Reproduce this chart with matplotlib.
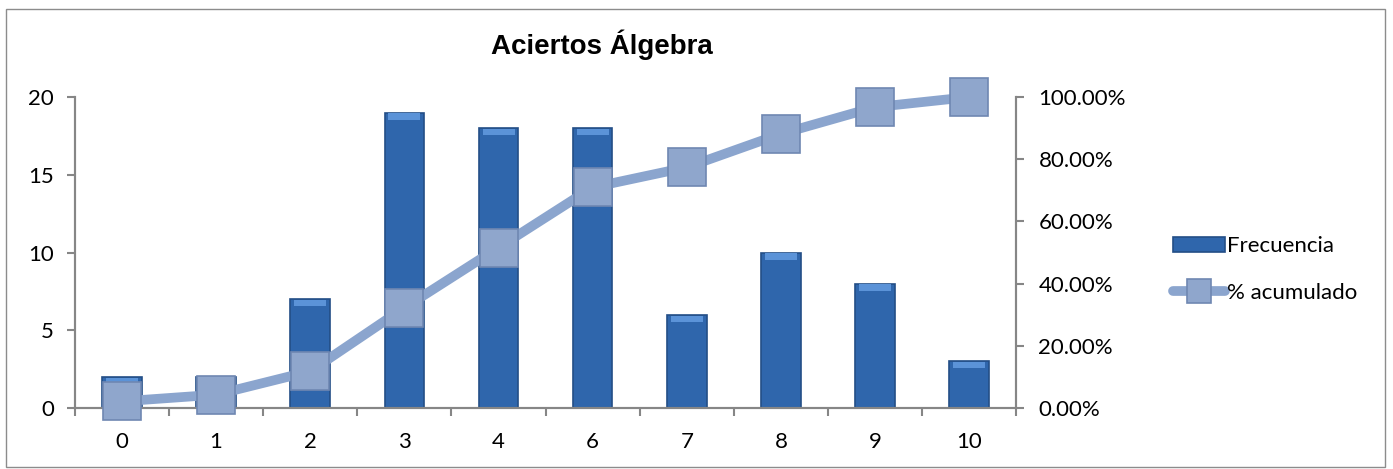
import numpy as np
import matplotlib.pyplot as plt
from matplotlib.ticker import PercentFormatter

# Frecuencia de aciertos y porcentaje acumulado
aciertos = ["0", "1", "2", "3", "4", "6", "7", "8", "9", "10"]
frecuencia = [2, 2, 7, 19, 18, 18, 6, 10, 8, 3]
total = sum(frecuencia)
acumulado = np.cumsum(frecuencia) / total

gris = "#868686"
x = np.arange(len(aciertos))

fig = plt.figure(figsize=(13.93, 4.69), dpi=100)
plt.rcParams["font.family"] = ["Lato", "DejaVu Sans"]

# borde del area del grafico
fig.patches.append(plt.Rectangle((0.004, 0.004), 0.99, 0.976, transform=fig.transFigure,
                                 fill=False, edgecolor="#8c8c8c", linewidth=1.0))

ax = fig.add_axes([0.0538, 0.130, 0.6757, 0.663])
ax2 = ax.twinx()

barras = ax.bar(x, frecuencia, width=0.42, color="#2F66AC", edgecolor="#234E86",
                linewidth=1.2, zorder=2, label="Frecuencia")
# brillo superior de cada barra
for xi, f in zip(x, frecuencia):
    ax.bar(xi, 0.4, bottom=f - 0.45, width=0.34, color="#5B93D8", linewidth=0, zorder=3)

linea, = ax2.plot(x, acumulado, color="#8BA5CE", linewidth=7, solid_capstyle="round", zorder=4,
                  marker="s", markersize=28, markerfacecolor="#8FA6CC", markeredgecolor="#6F87B2",
                  markeredgewidth=1.2, clip_on=False, label="% acumulado")

ax.set_xlim(-0.5, len(aciertos) - 0.5)
ax.set_ylim(0, 20)
ax2.set_ylim(0, 1)
ax.set_yticks([0, 5, 10, 15, 20])
ax2.set_yticks([0, 0.2, 0.4, 0.6, 0.8, 1.0])
ax2.yaxis.set_major_formatter(PercentFormatter(1.0, decimals=2))

ax.set_xticks(x)
ax.set_xticklabels(aciertos)
ax.set_xticks(np.arange(-0.5, len(aciertos)), minor=True)
ax.tick_params(axis="x", which="major", length=0, pad=17, labelsize=16)
ax.tick_params(axis="x", which="minor", length=6, color=gris, width=1.5)
ax.tick_params(axis="y", length=6, color=gris, width=1.5, pad=9, labelsize=16)
ax2.tick_params(axis="y", length=6, color=gris, width=1.5, pad=10, labelsize=16)

for a in (ax, ax2):
    a.spines["top"].set_visible(False)
    for s in ("left", "right", "bottom"):
        a.spines[s].set_color(gris)
        a.spines[s].set_linewidth(1.5)
ax.set_zorder(ax2.get_zorder() - 1)
ax2.patch.set_visible(False)

fig.text(0.432, 0.905, "Aciertos Álgebra", ha="center", va="center", fontsize=20,
         fontweight="bold", family="Liberation Sans")

fig.legend([barras, linea], ["Frecuencia", "% acumulado"], loc="center left",
           bbox_to_anchor=(0.828, 0.425), frameon=False, fontsize=16,
           handlelength=2.3, handletextpad=0.1, labelspacing=1.2, markerscale=0.6)

fig.savefig("out.png", dpi=100)
